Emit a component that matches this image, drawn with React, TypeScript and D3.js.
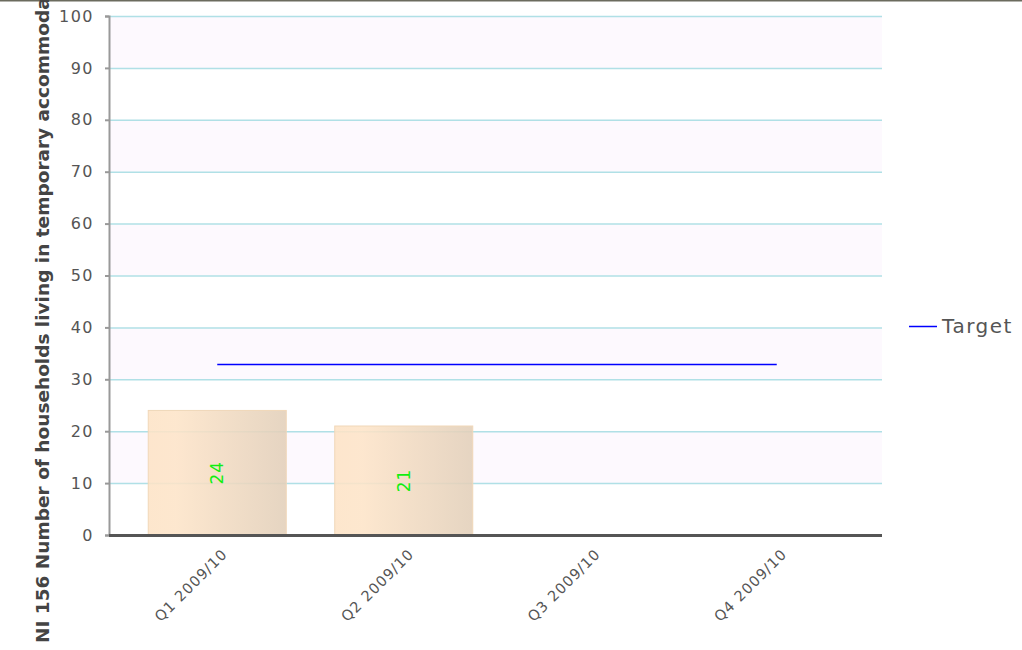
import { useEffect, useRef } from 'react';
import * as d3 from 'd3';

const quarters = ['Q1 2009/10', 'Q2 2009/10', 'Q3 2009/10', 'Q4 2009/10'];
const actuals: (number | null)[] = [24, 21, null, null];
const targets = [33, 33, 33, 33];
const yTicks = [0, 10, 20, 30, 40, 50, 60, 70, 80, 90, 100];
const yTitle = 'NI 156 Number of households living in temporary accommodation';

const W = 1022;
const H = 650;

export default function App() {
  const svgRef = useRef<SVGSVGElement>(null);

  useEffect(() => {
    if (!svgRef.current) return;
    const svg = d3.select(svgRef.current);
    svg.selectAll('*').remove();

    const left = 109, right = 882, top = 16, bottom = 535;

    const y = d3.scaleLinear().domain([0, 100]).range([bottom, top]);
    const x = d3.scaleBand<string>()
      .domain(quarters)
      .range([left + 15, right - 12])
      .paddingInner(0.26)
      .paddingOuter(0.13);

    const defs = svg.append('defs');
    const grad = defs.append('linearGradient')
      .attr('id', 'barGrad')
      .attr('x1', '0%').attr('x2', '100%').attr('y1', '0%').attr('y2', '0%');
    grad.append('stop').attr('offset', '0%').attr('stop-color', '#fde3c6');
    grad.append('stop').attr('offset', '20%').attr('stop-color', '#fde4c8');
    grad.append('stop').attr('offset', '100%').attr('stop-color', '#e2cfb9');

    // top border
    svg.append('rect').attr('x', 0).attr('y', 0).attr('width', W).attr('height', 1.5).attr('fill', '#6b6b5e');

    // alternating bands
    const bands = d3.range(0, 100, 10).filter(v => (v / 10) % 2 === 1);
    svg.append('g').selectAll('rect')
      .data(bands)
      .join('rect')
      .attr('x', left)
      .attr('y', d => y(d + 10))
      .attr('width', right - left)
      .attr('height', d => y(d) - y(d + 10))
      .attr('fill', '#fdf9fe');

    // gridlines
    svg.append('g').selectAll('line')
      .data(yTicks.filter(d => d > 0))
      .join('line')
      .attr('x1', left).attr('x2', right)
      .attr('y1', d => y(d) + 0.5).attr('y2', d => y(d) + 0.5)
      .attr('stroke', '#b0e0e6')
      .attr('stroke-width', 1.5);

    // bars
    const barData = quarters.map((q, i) => ({ q, v: actuals[i] })).filter(d => d.v != null) as { q: string; v: number }[];
    svg.append('g').selectAll('rect')
      .data(barData)
      .join('rect')
      .attr('x', d => x(d.q)!)
      .attr('y', d => y(d.v))
      .attr('width', x.bandwidth())
      .attr('height', d => bottom - y(d.v))
      .attr('fill', 'url(#barGrad)')
      .attr('fill-opacity', 0.88)
      .attr('stroke', '#f0d7b8')
      .attr('stroke-width', 1);

    svg.append('g').selectAll('text')
      .data(barData)
      .join('text')
      .attr('transform', d => `translate(${x(d.q)! + x.bandwidth() / 2},${(y(d.v) + bottom) / 2}) rotate(-90)`)
      .attr('text-anchor', 'middle')
      .attr('dy', '0.35em')
      .attr('font-family', 'Verdana, "DejaVu Sans", sans-serif')
      .attr('font-size', 17)
      .attr('letter-spacing', 1)
      .attr('fill', '#11ee11')
      .text(d => d.v);

    // y axis
    const yAxis = svg.append('g').attr('transform', `translate(${left},0)`)
      .call(d3.axisLeft(y).tickValues(yTicks).tickSize(4).tickPadding(11));
    yAxis.select('.domain').attr('stroke', '#999').attr('stroke-width', 2);
    yAxis.selectAll('.tick line').attr('stroke', '#999').attr('stroke-width', 2);
    yAxis.selectAll('.tick text')
      .attr('fill', '#555')
      .attr('font-size', 16)
      .attr('letter-spacing', 1.5)
      .attr('font-family', 'Tahoma, "DejaVu Sans", sans-serif');

    // x axis line
    svg.append('line')
      .attr('x1', left).attr('x2', right)
      .attr('y1', bottom + 0.5).attr('y2', bottom + 0.5)
      .attr('stroke', '#555')
      .attr('stroke-width', 3);

    // x labels
    svg.append('g').selectAll('text')
      .data(quarters)
      .join('text')
      .attr('transform', q => `translate(${x(q)! + x.bandwidth() / 2 + 11},${bottom + 20}) rotate(-45)`)
      .attr('text-anchor', 'end')
      .attr('font-family', 'Tahoma, "DejaVu Sans", sans-serif')
      .attr('font-size', 14.5)
      .attr('letter-spacing', 1)
      .attr('fill', '#555')
      .text(q => q);

    // target line
    const line = d3.line<number>()
      .x((_, i) => x(quarters[i])! + x.bandwidth() / 2)
      .y(d => Math.round(y(d)) + 0.5);
    svg.append('path')
      .datum(targets)
      .attr('d', line)
      .attr('fill', 'none')
      .attr('stroke', '#0000ff')
      .attr('stroke-width', 1.5);

    // y title (clipped at the top edge, as in the original)
    svg.append('text')
      .attr('transform', `translate(49,643) rotate(-90)`)
      .attr('font-family', 'Verdana, "DejaVu Sans", sans-serif')
      .attr('font-weight', 'bold')
      .attr('font-size', 18.5)
      .attr('fill', '#444')
      .text(yTitle);

    // legend
    const lg = svg.append('g').attr('transform', 'translate(909,326)');
    lg.append('line').attr('x1', 0).attr('x2', 28).attr('y1', 0.5).attr('y2', 0.5)
      .attr('stroke', '#0000ff').attr('stroke-width', 1.5);
    lg.append('text').attr('x', 33).attr('y', 0).attr('dy', '0.35em')
      .attr('font-family', 'Tahoma, "DejaVu Sans", sans-serif')
      .attr('font-size', 20)
      .attr('letter-spacing', 1.5)
      .attr('fill', '#555')
      .text('Target');
  }, []);

  return (
    <svg ref={svgRef} width={W} height={H}
      style={{ position: 'absolute', left: 0, top: 0, background: '#fff' }} />
  );
}
